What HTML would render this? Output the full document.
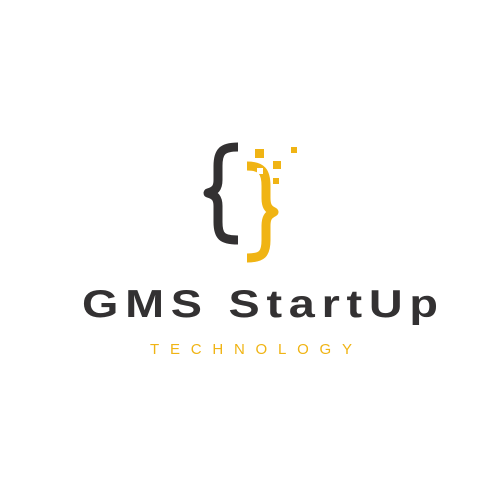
<!DOCTYPE html>
<html><head><meta charset="utf-8"><style>
html,body{margin:0;padding:0;background:#fff;width:500px;height:500px;overflow:hidden}
</style></head><body>
<svg width="500" height="500" viewBox="0 0 500 500">
<g>
<path d="M238,147 C222,147 218,152 218,166 L218,180 C218,188 215,191 208,193 C215,195 218,198 218,206 L218,222 C218,236 222,240 238,240" fill="none" stroke="#333132" stroke-width="9" stroke-linejoin="round"/>
<path d="M247,166 C262,166 266,172 266,186 L266,198 C266,206 268,209 274,212 C268,215 266,218 266,226 L266,240 C266,254 262,258 247,258" fill="none" stroke="#f0b414" stroke-width="9" stroke-linejoin="round"/>
<rect x="255" y="149" width="9" height="9" fill="#f0b414"/>
<rect x="291" y="147" width="6" height="6" fill="#f0b414"/>
<rect x="273" y="161" width="8" height="8" fill="#f0b414"/>
<rect x="273" y="178" width="6" height="6" fill="#f0b414"/>
<rect x="257" y="168" width="6" height="6" fill="#fff"/>
</g>
<g transform="scale(1.2,1)">
<text x="68.3" y="317" textLength="296.7" lengthAdjust="spacing" font-family="Liberation Sans, sans-serif" font-weight="bold" font-size="39" fill="#333132">GMS StartUp</text>
</g>
<text x="150" y="354" textLength="202" lengthAdjust="spacing" font-family="Liberation Sans, sans-serif" font-size="15" fill="#f0b414">TECHNOLOGY</text>
</svg>
</body></html>
